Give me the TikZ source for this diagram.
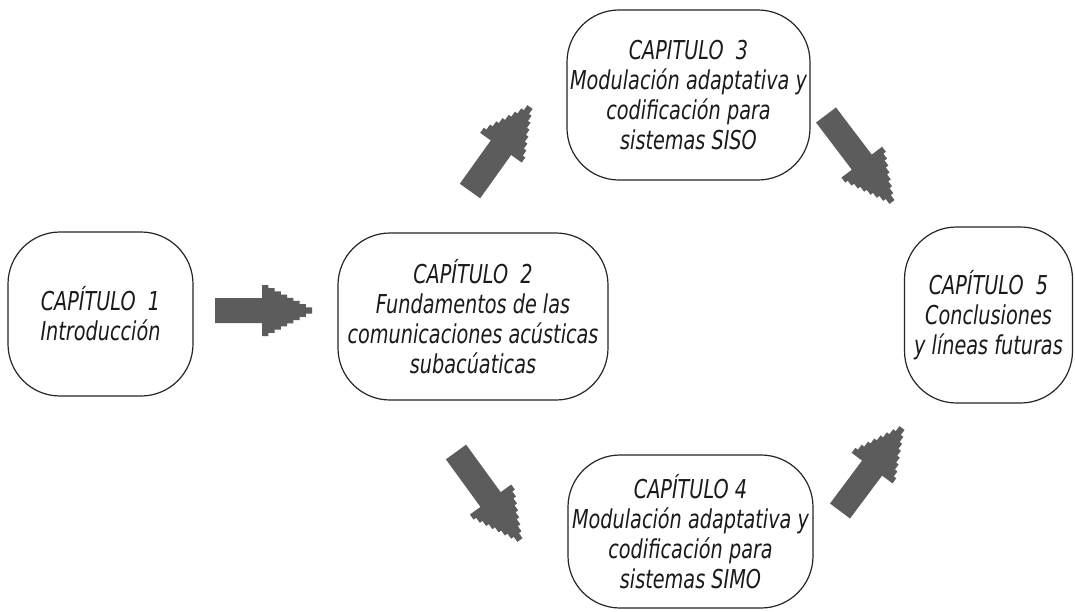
\documentclass[tikz,border=0pt]{standalone}
\usepackage{fontspec}
\newfontfamily\boxfont[FakeStretch=0.74]{DejaVu Sans}
\usetikzlibrary{calc}
\definecolor{arrowgray}{HTML}{5C5C5C}
\definecolor{textgray}{HTML}{1A1A1A}
\newcommand\blockarrow[2]{%
  \path let \p1=($(#2)-(#1)$) in \pgfextra{\pgfmathsetmacro\baang{atan2(\y1,\x1)}\pgfmathsetmacro\bashaft{veclen(\x1,\y1)-50}\global\let\baang\baang\global\let\bashaft\bashaft};
  \begin{scope}[shift={(#1)},rotate=\baang]
    \fill[arrowgray] (0,-12.5) -- (\bashaft,-12.5) -- (\bashaft,-25.5)
      foreach \i in {1,...,8}{ -- ++(6.25,0) -- ++(0,3.19)}
      foreach \i in {1,...,8}{ -- ++(0,3.19) -- ++(-6.25,0)}
      -- (\bashaft,12.5) -- (0,12.5) -- cycle;
  \end{scope}}
\tikzset{
  chapter/.style={draw=black!85, line width=1.2pt, rounded corners=52pt, fill=white,
    align=center, inner sep=0pt, text=textgray,
    font=\boxfont\itshape\fontsize{26}{30}\selectfont}
}
\begin{document}
\begin{tikzpicture}[x=1pt,y=-1pt]
\useasboundingbox[fill=white] (0,0) rectangle (1075,611);
\node[chapter, minimum width=185pt, minimum height=164pt] (c1) at (100.5,314) {CAPÍTULO~~1\\Introducción};
\node[chapter, minimum width=270pt, minimum height=167pt] (c2) at (473,316.5) {CAPÍTULO~~2\\Fundamentos de las\\comunicaciones acústicas\\subacúaticas};
\node[chapter, minimum width=243pt, minimum height=170pt] (c3) at (688.5,95) {CAPITULO~~3\\Modulación adaptativa y\\codificación para\\sistemas SISO};
\node[chapter, minimum width=245pt, minimum height=153pt] (c4) at (690.5,531.5) {CAPÍTULO 4\\Modulación adaptativa y\\codificación para\\sistemas SIMO};
\node[chapter, minimum width=168pt, minimum height=176pt] (c5) at (988.5,315) {CAPÍTULO~~5\\Conclusiones\\y líneas futuras};
% arrow tails and tips
\coordinate (a1s) at (215,310.5);
\coordinate (a1e) at (312,310.5);
\coordinate (a2s) at (470,191);
\coordinate (a2e) at (530,107);
\coordinate (a3s) at (826,115);
\coordinate (a3e) at (892,202);
\coordinate (a4s) at (456,452);
\coordinate (a4e) at (520,540);
\coordinate (a5s) at (840,511);
\coordinate (a5e) at (902,428);
\blockarrow{a1s}{a1e}
\blockarrow{a2s}{a2e}
\blockarrow{a3s}{a3e}
\blockarrow{a4s}{a4e}
\blockarrow{a5s}{a5e}
\end{tikzpicture}
\end{document}
